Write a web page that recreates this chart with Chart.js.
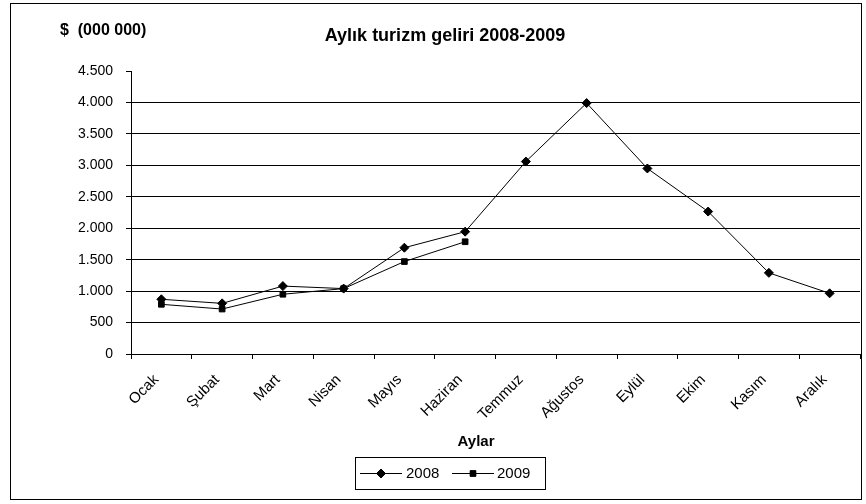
<!DOCTYPE html>
<html>
<head>
<meta charset="utf-8">
<script src="https://cdn.jsdelivr.net/npm/chart.js@4/dist/chart.umd.min.js"></script>
<style>
  html, body { margin: 0; padding: 0; background: #fff; }
  #wrap { width: 866px; height: 504px; }
</style>
</head>
<body>
<div id="wrap"><canvas id="myChart" width="866" height="504"></canvas></div>
<script>
let months = ["Ocak", "Şubat", "Mart", "Nisan", "Mayıs", "Haziran", "Temmuz", "Ağustos", "Eylül", "Ekim", "Kasım", "Aralık"];
let gelir2008 = [870, 805, 1080, 1040, 1690, 1945, 3060, 3990, 2950, 2265, 1290, 965];
let gelir2009 = [790, 715, 950, 1040, 1470, 1785, null, null, null, null, null, null];
let seriesNames = ["2008", "2009"];
let bounds = [0, 4500, 500];
let chartTitle = "Aylık turizm geliri 2008-2009";
let unitLabel = "$  (000 000)";
let axisTitle = "Aylar";

const FONT = "'Liberation Sans', Arial, sans-serif";

function fmt(v){
	return String(v).replace(/\B(?=(\d{3})+(?!\d))/g, ".");
}

// frame, title, unit text, axis title and the boxed legend
const extras = {
	id: "extras",
	afterDraw(chart){
		const ctx = chart.ctx;
		ctx.save();
		ctx.strokeStyle = "#000";
		ctx.lineWidth = 1;
		ctx.strokeRect(10.5, 3.5, 851, 496);

		ctx.fillStyle = "#000";
		ctx.textBaseline = "alphabetic";
		ctx.font = "bold 16px " + FONT;
		ctx.textAlign = "left";
		ctx.fillText(unitLabel, 60, 35);
		ctx.font = "bold 18px " + FONT;
		ctx.textAlign = "center";
		ctx.fillText(chartTitle, 445, 41);
		ctx.font = "bold 15px " + FONT;
		ctx.fillText(axisTitle, 476, 446);

		// legend
		ctx.strokeRect(355.5, 457.5, 190, 32);
		const items = [[360, 402, 381, 406], [452, 494, 473, 497]];
		ctx.font = "15px " + FONT;
		ctx.textAlign = "left";
		ctx.textBaseline = "middle";
		chart.data.datasets.forEach((ds, i) => {
			const it = items[i];
			ctx.beginPath();
			ctx.moveTo(it[0], 473.5);
			ctx.lineTo(it[1], 473.5);
			ctx.strokeStyle = "#000";
			ctx.lineWidth = 1;
			ctx.stroke();
			Chart.helpers.drawPoint(ctx, {pointStyle: ds.pointStyle, radius: ds.pointRadius, borderWidth: 1, rotation: 0}, it[2], 473.5);
			ctx.fillStyle = "#000";
			ctx.fill();
			ctx.fillText(ds.label, it[3], 474);
		});
		ctx.restore();
	}
};

function makeGraph(){
	let chart = new Chart("myChart", {
		type: "line",
		data: {
			labels: months,
			datasets: [{
				label: seriesNames[0],
				data: gelir2008,
				borderColor: "#000",
				backgroundColor: "#000",
				borderWidth: 1,
				pointStyle: "rectRot",
				pointRadius: 4.5,
				pointBorderWidth: 1,
				tension: 0,
				fill: false
			}, {
				label: seriesNames[1],
				data: gelir2009,
				borderColor: "#000",
				backgroundColor: "#000",
				borderWidth: 1,
				pointStyle: "rect",
				pointRadius: 4,
				pointBorderWidth: 1,
				tension: 0,
				fill: false
			}]
		},
		options: {
			responsive: false,
			animation: false,
			layout: { padding: { left: 0, top: 71, right: 6, bottom: 58 } },
			plugins: {
				legend: { display: false },
				title: { display: false },
				tooltip: { enabled: false }
			},
			scales: {
				x: {
					offset: true,
					grid: {
						offset: true,
						drawOnChartArea: false,
						drawTicks: true,
						tickLength: 5,
						tickColor: "#000"
					},
					border: { color: "#000", width: 1 },
					ticks: {
						color: "#000",
						minRotation: 45,
						maxRotation: 45,
						padding: 12,
						labelOffset: -5,
						autoSkip: false,
						font: { family: FONT, size: 15 }
					},
					afterFit(scale){ scale.height = 92; }
				},
				y: {
					min: bounds[0],
					max: bounds[1],
					grid: {
						color: (c) => c.tick && c.tick.value === bounds[1] ? "rgba(0,0,0,0)" : "#000",
						tickColor: "#000",
						tickLength: 5,
						lineWidth: 1
					},
					border: { color: "#000", width: 1 },
					ticks: {
						stepSize: bounds[2],
						color: "#000",
						padding: 13,
						callback: (v) => fmt(v),
						font: { family: FONT, size: 14 }
					},
					afterFit(scale){ scale.width = 131; }
				}
			}
		},
		plugins: [extras]
	});
}

makeGraph();
</script>
</body>
</html>
